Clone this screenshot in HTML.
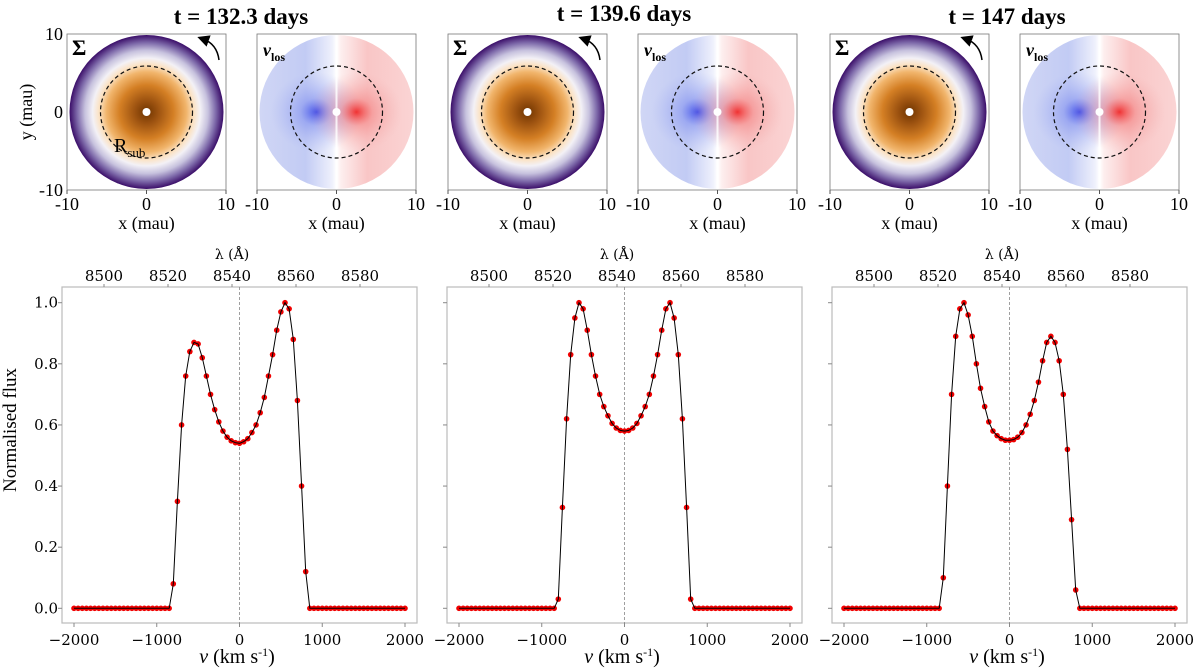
<!DOCTYPE html>
<html><head><meta charset="utf-8">
<style>
body{margin:0;background:#fff;}
svg{display:block;font-family:"Liberation Serif","DejaVu Serif",serif;}
.dv{font-family:"DejaVu Serif","Liberation Serif",serif;}
</style></head>
<body>
<svg id="fig" width="1200" height="669" viewBox="0 0 1200 669" xmlns="http://www.w3.org/2000/svg">
<defs>
<radialGradient id="sigmaGrad" cx="0.5" cy="0.5" r="0.5">
<stop offset="0" stop-color="#6e3400"/>
<stop offset="0.15" stop-color="#9c5210"/>
<stop offset="0.35" stop-color="#d47f24"/>
<stop offset="0.52" stop-color="#f1b56c"/>
<stop offset="0.62" stop-color="#fbe3c6"/>
<stop offset="0.7" stop-color="#f3f1f6"/>
<stop offset="0.8" stop-color="#c7c2de"/>
<stop offset="0.9" stop-color="#7e6aaa"/>
<stop offset="1" stop-color="#3a0d68"/>
</radialGradient>
<linearGradient id="vlosLin" x1="0" y1="0" x2="1" y2="0">
<stop offset="0" stop-color="#d0d6f5"/>
<stop offset="0.3" stop-color="#c2cbf4"/>
<stop offset="0.47" stop-color="#eef0fc"/>
<stop offset="0.5" stop-color="#ffffff"/>
<stop offset="0.53" stop-color="#fdeeee"/>
<stop offset="0.7" stop-color="#f9c6c6"/>
<stop offset="1" stop-color="#fad4d4"/>
</linearGradient>
<radialGradient id="blueCore" cx="0.5" cy="0.5" r="0.5">
<stop offset="0" stop-color="#3040e8" stop-opacity="0.9"/>
<stop offset="0.35" stop-color="#7080ee" stop-opacity="0.45"/>
<stop offset="1" stop-color="#a0acf0" stop-opacity="0"/>
</radialGradient>
<radialGradient id="redCore" cx="0.5" cy="0.5" r="0.5">
<stop offset="0" stop-color="#f02020" stop-opacity="0.9"/>
<stop offset="0.35" stop-color="#f27070" stop-opacity="0.45"/>
<stop offset="1" stop-color="#f3a8a8" stop-opacity="0"/>
</radialGradient>
<marker id="arrowHead" markerWidth="8" markerHeight="8" refX="4" refY="4" orient="auto"><path d="M0,0 L8,4 L0,8 z" fill="#000"/></marker>
</defs>
<g id="root"></g>
</svg>
<script>
// ---- data ----
const panelTimes = ["t = 132.3 days", "t = 139.6 days", "t = 147 days"];
const velocities = [-2000,-1950,-1900,-1850,-1800,-1750,-1700,-1650,-1600,-1550,-1500,-1450,-1400,-1350,-1300,-1250,-1200,-1150,-1100,-1050,-1000,-950,-900,-850,-800,-750,-700,-650,-600,-550,-500,-450,-400,-350,-300,-250,-200,-150,-100,-50,0,50,100,150,200,250,300,350,400,450,500,550,600,650,700,750,800,850,900,950,1000,1050,1100,1150,1200,1250,1300,1350,1400,1450,1500,1550,1600,1650,1700,1750,1800,1850,1900,1950,2000];
const flux1 = [0,0,0,0,0,0,0,0,0,0,0,0,0,0,0,0,0,0,0,0,0,0,0,0,0.08,0.35,0.6,0.76,0.84,0.87,0.865,0.82,0.76,0.70,0.65,0.61,0.58,0.56,0.548,0.542,0.54,0.545,0.555,0.575,0.60,0.64,0.69,0.76,0.83,0.91,0.97,1.0,0.98,0.88,0.68,0.40,0.12,0,0,0,0,0,0,0,0,0,0,0,0,0,0,0,0,0,0,0,0,0,0,0,0];
const flux2 = [0,0,0,0,0,0,0,0,0,0,0,0,0,0,0,0,0,0,0,0,0,0,0,0,0.03,0.33,0.62,0.83,0.95,1.0,0.98,0.91,0.83,0.76,0.70,0.66,0.63,0.605,0.59,0.582,0.58,0.582,0.59,0.605,0.63,0.66,0.70,0.76,0.83,0.91,0.98,1.0,0.95,0.83,0.62,0.33,0.03,0,0,0,0,0,0,0,0,0,0,0,0,0,0,0,0,0,0,0,0,0,0,0,0];
const flux3 = [0,0,0,0,0,0,0,0,0,0,0,0,0,0,0,0,0,0,0,0,0,0,0,0,0.1,0.40,0.70,0.89,0.98,1.0,0.96,0.89,0.80,0.72,0.66,0.61,0.58,0.565,0.555,0.55,0.55,0.552,0.56,0.575,0.60,0.635,0.68,0.74,0.81,0.87,0.89,0.87,0.81,0.70,0.52,0.29,0.06,0,0,0,0,0,0,0,0,0,0,0,0,0,0,0,0,0,0,0,0,0,0,0,0];
const fluxSeries = [flux1, flux2, flux3];
const vTicks = [-2000,-1000,0,1000,2000];
const vTickLabels = ["\u22122000","\u22121000","0","1000","2000"];
const fTicks = [0,0.2,0.4,0.6,0.8,1.0];
const fTickLabels = ["0.0","0.2","0.4","0.6","0.8","1.0"];
const lamTicks = [8500,8520,8540,8560,8580];
const mapTicks = [-10,0,10];

const NS="http://www.w3.org/2000/svg";
const root=document.getElementById('root');
function mk(tag, attrs, parent, text){
  const e=document.createElementNS(NS,tag);
  for(const k in attrs) e.setAttribute(k,attrs[k]);
  if(text!==undefined) e.textContent=text;
  (parent||root).appendChild(e); return e;
}

const specLeft=[62,447,832];
const sigLeft=[67,448,830];
const vlLeft=[257,638,1020];
const titleX=[241,624,1007];
const titleY=[24,21,24];

for(let p=0;p<3;p++){
  const t=mk('text',{x:titleX[p],y:titleY[p],'text-anchor':'middle','font-size':'23','font-weight':'bold'},root,panelTimes[p]);
  
  

  [sigLeft[p],vlLeft[p]].forEach((bx,mi)=>{
    const g=mk('g',{});
    
    
    const by=34,bw=159,bh=156;
    const cx=bx+bw/2, cy=by+bh/2, R=77;
    const mx=v=>bx+ (v+10)/20*bw;
    mk('rect',{x:bx,y:by,width:bw,height:bh,fill:'#fff',stroke:'#777','stroke-width':0.8},g);
    if(mi==0){
      mk('circle',{cx:cx,cy:cy,r:R,fill:'url(#sigmaGrad)'},g);
    } else {
      mk('circle',{cx:cx,cy:cy,r:R,fill:'url(#vlosLin)'},g);
      mk('ellipse',{cx:cx-20,cy:cy,rx:46,ry:40,fill:'url(#blueCore)'},g);
      mk('ellipse',{cx:cx+20,cy:cy,rx:46,ry:40,fill:'url(#redCore)'},g);
      mk('rect',{x:cx-1,y:cy-R,width:2,height:2*R,fill:'#fff',opacity:0.8},g);
    }
    mk('circle',{cx:cx,cy:cy,r:46,fill:'none',stroke:'#111','stroke-width':1.2,'stroke-dasharray':'4,3'},g);
    mk('circle',{cx:cx,cy:cy,r:4,fill:'#fff'},g);
    if(mi==0){
      mk('text',{x:bx+5,y:by+21,'font-size':'22','font-weight':'bold'},g,'Σ');
      mk('path',{d:`M${bx+152},${by+26} Q${bx+150},${by+10} ${bx+136},${by+5}`,fill:'none',stroke:'#000','stroke-width':1.5,'marker-end':'url(#arrowHead)'},g);
      if(p==0){
        const rs=mk('text',{x:bx+47,y:by+118,'font-size':'20'},g,'R');
        mk('tspan',{dy:'5','font-size':'13'},rs,'sub');
      }
    } else {
      const vt=mk('text',{x:bx+6,y:by+22,'font-size':'18','font-weight':'bold','font-style':'italic'},g,'v');
      mk('tspan',{dy:'5','font-size':'12','font-style':'normal'},vt,'los');
    }
    mapTicks.forEach(tv=>{
      mk('line',{x1:mx(tv),x2:mx(tv),y1:by+bh,y2:by+bh+4,stroke:'#555'},g);
      mk('text',{x:mx(tv),y:by+bh+20,'text-anchor':'middle','font-size':'18'},g,String(tv));
    });
    mk('text',{x:bx+bw/2,y:by+bh+39,'text-anchor':'middle','font-size':'18'},g,'x (mau)');
    if(p==0&&mi==0){
      const my=v=>by+bh-(v+10)/20*bh;
      mapTicks.forEach(tv=>{
        mk('text',{x:bx-4,y:my(tv)+6,'text-anchor':'end','font-size':'18'},g,String(tv));
      });
      mk('text',{x:0,y:0,'text-anchor':'middle','font-size':'18',transform:`translate(32,${cy}) rotate(-90)`},g,'y (mau)');
    }
  });

  const x0=specLeft[p], top=287, bot=623, w=355;
  const g=mk('g',{});
  
  
  const xs=v=>x0+12+(v+2000)/4000*331;
  const ys=f=>608.3-f*305.6;
  const xl=l=>x0+170+(l-8540)*3.2;
  mk('rect',{x:x0,y:top,width:w,height:bot-top,fill:'none',stroke:'#bbb','stroke-width':1.2},g);
  vTicks.forEach((tv,i)=>{
    mk('line',{x1:xs(tv),x2:xs(tv),y1:bot,y2:bot+4,stroke:'#888'},g);
    mk('text',{x:xs(tv),y:bot+22,'text-anchor':'middle','font-size':'15',class:'dv'},g,vTickLabels[i]);
  });
  lamTicks.forEach(l=>{
    mk('line',{x1:xl(l),x2:xl(l),y1:top,y2:top-3,stroke:'#888'},g);
    mk('text',{x:xl(l),y:281,'text-anchor':'middle','font-size':'15',class:'dv'},g,String(l));
  });
  mk('text',{x:x0+170,y:259,'text-anchor':'middle','font-size':'14',class:'dv'},g,'λ (Å)');
  fTicks.forEach((f,i)=>{
    mk('line',{x1:x0,x2:x0-4,y1:ys(f),y2:ys(f),stroke:'#888'},g);
    if(p==0) mk('text',{x:x0-4,y:ys(f)+5,'text-anchor':'end','font-size':'15',class:'dv'},g,fTickLabels[i]);
  });
  const xlab=mk('text',{x:x0+175,y:bot+40,'text-anchor':'middle','font-size':'20'},g);
  mk('tspan',{'font-style':'italic'},xlab,'v');
  mk('tspan',{},xlab,' (km s');
  mk('tspan',{dy:'-7','font-size':'12'},xlab,'-1');
  mk('tspan',{dy:'7'},xlab,')');
  mk('line',{x1:xs(0),x2:xs(0),y1:top,y2:bot,stroke:'#888','stroke-width':0.8,'stroke-dasharray':'3,2'},g);
  const fl=fluxSeries[p];
  let d='';
  velocities.forEach((v,i)=>{d+=(i?'L':'M')+xs(v).toFixed(1)+','+ys(fl[i]).toFixed(1);});
  velocities.forEach((v,i)=>{
    const c=mk('circle',{cx:xs(v),cy:ys(fl[i]),r:2.8,fill:'#f00000'},g);
    
    
  });
  const ln=mk('path',{d:d,fill:'none',stroke:'#000','stroke-width':1},g);
  
  
}
const yl=mk('text',{x:0,y:0,'text-anchor':'middle','font-size':'19',transform:'translate(16,430) rotate(-90)'},root,'Normalised flux');


</script>
</body></html>
